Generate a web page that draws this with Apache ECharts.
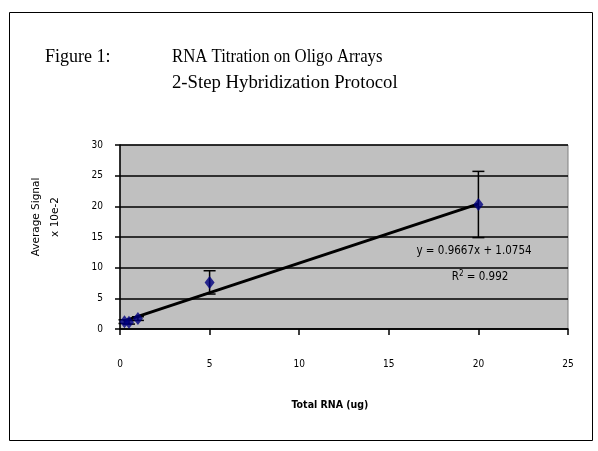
<!DOCTYPE html>
<html>
<head>
<meta charset="utf-8">
<script src="https://cdn.jsdelivr.net/npm/echarts@6/dist/echarts.min.js"></script>
<style>
  html, body { margin: 0; padding: 0; background: #fff; }
  #main { width: 598px; height: 451px; }
</style>
</head>
<body>
<div id="main"></div>
<script>
// data
var rnaUg = [0.25, 0.5, 1, 5, 20];
var avgSignal = [1.2, 1.1, 1.7, 7.6, 20.3];
var signalErr = [0.3, 0.3, 0.3, 1.9, 5.4];
var xTicks = [0, 5, 10, 15, 20, 25];
var yTicks = [0, 5, 10, 15, 20, 25, 30];
// linear trendline shown on the chart
var slope = 0.9667, intercept = 1.0754, rSquared = 0.992;
var trendRange = [0.25, 20];

var points = rnaUg.map(function (x, i) { return [x, avgSignal[i]]; });
var errData = rnaUg.map(function (x, i) {
  return [x, avgSignal[i] - signalErr[i], avgSignal[i] + signalErr[i]];
});
var trend = trendRange.map(function (x) { return [x, slope * x + intercept]; });

var serif = '18px "Liberation Serif"';
var eqFont = '11.5px "DejaVu Sans Condensed"';

var myChart = echarts.init(document.getElementById('main'));
myChart.setOption({
  animation: false,
  backgroundColor: '#ffffff',
  grid: {
    left: 120, right: 30, top: 145, bottom: 122,
    show: true,
    backgroundColor: '#c0c0c0',
    borderColor: '#808080',
    borderWidth: 1
  },
  graphic: [
    { type: 'rect', left: 7, top: 10, shape: { width: 583, height: 428 },
      style: { fill: 'none', stroke: '#000', lineWidth: 1 }, z: -1 },
    { type: 'text', x: 45, y: 48,
      style: { text: 'Figure 1:', font: serif, fill: '#000' } },
    { type: 'text', x: 172, y: 48, scaleX: 0.93,
      style: { text: 'RNA Titration on Oligo Arrays', font: serif, fill: '#000' } },
    { type: 'text', x: 172, y: 74, scaleX: 1.04,
      style: { text: '2-Step Hybridization Protocol', font: serif, fill: '#000' } },
    // axis names
    { type: 'text', x: 36, y: 217, rotation: Math.PI / 2,
      style: { text: 'Average Signal', font: '10.5px "DejaVu Sans"', fill: '#000', align: 'center', verticalAlign: 'middle' } },
    { type: 'text', x: 55, y: 217, rotation: Math.PI / 2,
      style: { text: 'x 10e-2', font: '10.5px "DejaVu Sans"', fill: '#000', align: 'center', verticalAlign: 'middle' } },
    { type: 'text', x: 330, y: 405,
      style: { text: 'Total RNA (ug)', font: 'bold 10.5px "DejaVu Sans Condensed"', fill: '#000', align: 'center', verticalAlign: 'middle' } },
    // trendline label
    { type: 'text', x: 474, y: 251,
      style: { text: 'y = ' + slope + 'x + ' + intercept, font: eqFont, fill: '#000', align: 'center', verticalAlign: 'middle' } },
    { type: 'text', x: 480, y: 277,
      style: { text: '{a|R}{s|2}{a| = ' + rSquared + '}', align: 'center', verticalAlign: 'middle',
        rich: {
          a: { font: eqFont, fill: '#000' },
          s: { font: '8px "DejaVu Sans Condensed"', fill: '#000', padding: [0, 0, 7, 0] }
        } } }
  ],
  xAxis: {
    type: 'value',
    min: 0, max: 25, interval: 5,
    axisLine: { lineStyle: { color: '#000', width: 1.5 } },
    axisTick: { inside: false, length: 6, lineStyle: { color: '#000', width: 1.5 } },
    axisLabel: { margin: 30, fontFamily: 'DejaVu Sans Condensed', fontSize: 10, color: '#000' },
    splitLine: { show: false }
  },
  yAxis: {
    type: 'value',
    min: 0, max: 30, interval: 5,
    axisLine: { lineStyle: { color: '#000', width: 1.5 } },
    axisTick: { length: 5, lineStyle: { color: '#000', width: 1.5 } },
    axisLabel: { margin: 17, fontFamily: 'DejaVu Sans Condensed', fontSize: 10, color: '#000' },
    splitLine: { lineStyle: { color: '#000', width: 1.5 } }
  },
  series: [
    {
      type: 'line',
      data: trend,
      showSymbol: false,
      lineStyle: { color: '#000', width: 3 },
      z: 3
    },
    {
      type: 'custom',
      data: errData,
      z: 4,
      renderItem: function (params, api) {
        var lo = api.coord([api.value(0), api.value(1)]);
        var hi = api.coord([api.value(0), api.value(2)]);
        var cap = 6;
        var st = { stroke: '#000', lineWidth: 1.5 };
        return {
          type: 'group',
          children: [
            { type: 'line', shape: { x1: lo[0], y1: lo[1], x2: hi[0], y2: hi[1] }, style: st },
            { type: 'line', shape: { x1: lo[0] - cap, y1: lo[1], x2: lo[0] + cap, y2: lo[1] }, style: st },
            { type: 'line', shape: { x1: hi[0] - cap, y1: hi[1], x2: hi[0] + cap, y2: hi[1] }, style: st }
          ]
        };
      }
    },
    {
      type: 'scatter',
      data: points,
      symbol: 'diamond',
      symbolSize: [10, 13],
      itemStyle: { color: '#000080' },
      z: 5
    }
  ]
});
</script>
</body>
</html>
